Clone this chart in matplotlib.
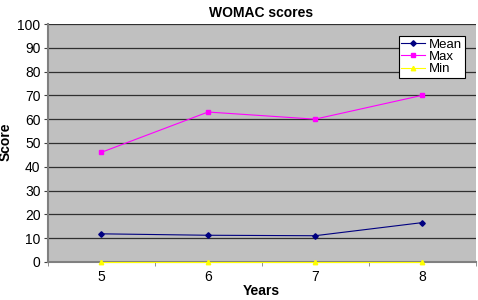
import numpy as np
import matplotlib.pyplot as plt

plt.rcParams['font.family'] = ['Liberation Sans', 'DejaVu Sans']

years = ['5', '6', '7', '8']
meanScores = [11.8, 11.2, 11.0, 16.5]
maxScores = [46, 63, 60, 70]
minScores = [0, 0, 0, 0]

fig = plt.figure(figsize=(4.78, 3.0), dpi=100)
ax = fig.add_axes([0.0994, 0.127, 0.8954, 0.793])
ax.set_facecolor('#c0c0c0')

x = np.arange(len(years))
ax.plot(x, meanScores, color='#000080', marker='D', markersize=2.8, lw=0.8, label='Mean', zorder=3)
ax.plot(x, maxScores, color='#ff00ff', marker='s', markersize=3.2, lw=0.8, label='Max', zorder=3)
ax.plot(x, minScores, color='#ffff00', marker='^', markersize=3.2, lw=0.8, label='Min', zorder=3, clip_on=False)

ax.set_xlim(-0.5, len(years) - 0.5)
ax.set_ylim(0, 100)
ax.set_yticks(np.arange(0, 101, 10))
ax.set_xticks(x)
ax.set_xticklabels(years)
ax.set_xticks(np.arange(-0.5, len(years), 1.0), minor=True)
ax.tick_params(axis='x', which='major', length=0, labelsize=10, pad=6)
ax.tick_params(axis='x', which='minor', length=3, direction='out', color='#808080')
ax.tick_params(axis='y', length=3, labelsize=10, pad=2, color='#404040')
ax.yaxis.grid(True, color='#303030', lw=0.9)
ax.set_axisbelow(True)

for side in ['top', 'right']:
    ax.spines[side].set_visible(False)
ax.spines['left'].set_color('#808080')
ax.spines['left'].set_linewidth(1.5)
ax.spines['bottom'].set_color('#808080')
ax.spines['bottom'].set_linewidth(1.5)

ax.set_title('WOMAC scores', fontsize=10, fontweight='bold', pad=5)
ax.set_xlabel('Years', fontsize=10, fontweight='bold', labelpad=0)
ax.set_ylabel('Score', fontsize=10, fontweight='bold')
ax.yaxis.set_label_coords(0.027, 0.527, transform=fig.transFigure)

leg = ax.legend(loc='upper right', bbox_to_anchor=(0.975, 0.95), fontsize=9.5,
                frameon=True, fancybox=False, edgecolor='black', framealpha=1,
                handlelength=1.8, handletextpad=0.3, borderpad=0.2, labelspacing=0.0,
                borderaxespad=0)
leg.get_frame().set_linewidth(0.8)

fig.savefig('out.png', dpi=100)
